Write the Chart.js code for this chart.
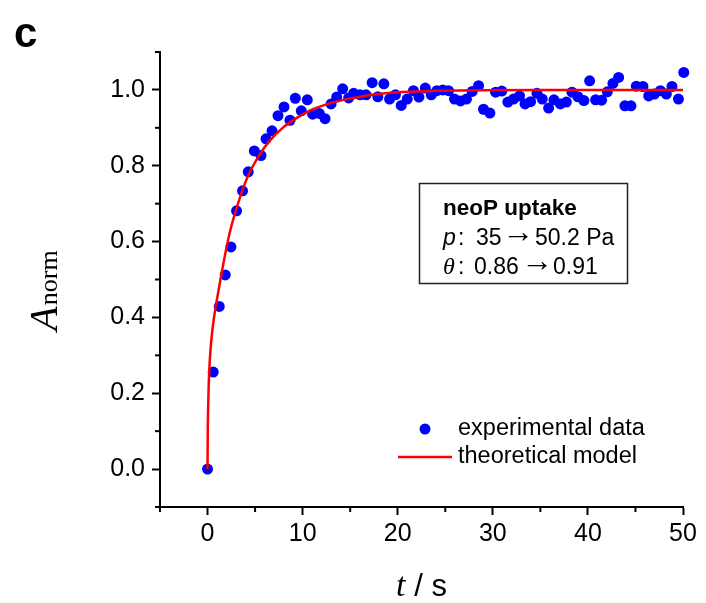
<!DOCTYPE html>
<html><head><meta charset="utf-8">
<script src="https://cdn.jsdelivr.net/npm/chart.js@4.4.1/dist/chart.umd.min.js"></script>
<style>html,body{margin:0;padding:0;background:#fff}#wrap{width:706px;height:603px}</style>
</head><body><div id="wrap"><canvas id="c" width="706" height="603"></canvas></div>
<script>
// ---- data ----
const timeExp = [0,0.60,1.23,1.86,2.46,3.05,3.68,4.28,4.92,5.62,6.15,6.78,7.41,8.04,8.67,9.23,9.86,10.49,11.05,11.75,
  12.36,12.99,13.58,14.21,14.84,15.37,16.05,16.67,17.31,17.91,18.54,19.14,19.76,20.37,21.0,21.65,22.23,22.9,23.53,24.12,
  24.74,25.34,25.97,26.6,27.23,27.83,28.5,29.02,29.69,30.29,30.95,31.58,32.18,32.81,33.39,33.97,34.64,35.2,35.87,36.43,
  37.1,37.73,38.32,38.95,39.58,40.18,40.81,41.44,42.04,42.63,43.23,43.89,44.53,45.09,45.79,46.39,46.99,47.62,48.25,48.84,
  49.52,50.08];
const normExp = [0,0.256,0.429,0.512,0.586,0.681,0.734,0.784,0.839,0.827,0.871,0.892,0.932,0.955,0.920,0.978,0.945,0.974,0.936,0.938,
  0.924,0.963,0.981,1.003,0.979,0.991,0.987,0.987,1.019,0.982,1.016,0.976,0.987,0.959,0.976,0.998,0.981,1.005,0.987,0.998,
  1.000,0.998,0.976,0.971,0.976,0.996,1.011,0.949,0.939,0.994,0.997,0.968,0.976,0.984,0.963,0.969,0.991,0.976,0.952,0.974,
  0.963,0.968,0.994,0.982,0.972,1.024,0.974,0.973,0.995,1.017,1.033,0.958,0.958,1.010,1.009,0.984,0.989,0.998,0.989,1.009,
  0.976,1.046];
const timeModel = [0,0.02,0.06,0.12,0.22,0.36,0.55,0.8,1.15,1.5,2.3,3.2,4.2,5.5,6.5,7.9,9.3,10.7,12.5,14.9,17.5,20,23.3,28,35,50];
const normModel = [0,0.09,0.16,0.22,0.28,0.33,0.375,0.42,0.47,0.52,0.62,0.70,0.77,0.83,0.865,0.90,0.925,0.945,0.962,0.977,0.988,0.994,0.997,0.999,1.0,1.0];
const xMajorTicks = [0,10,20,30,40,50];
const xMinorTicks = [-5,5,15,25,35,45];
const yMajorTicks = [0,0.2,0.4,0.6,0.8,1.0];
const yMinorTicks = [-0.1,0.1,0.3,0.5,0.7,0.9,1.1];
const seriesNames = ['experimental data','theoretical model'];
const boxTitle = 'neoP uptake';
const pressureFrom = '35', pressureTo = '50.2 Pa';
const coverageFrom = '0.86', coverageTo = '0.91';

const SANS = '"Liberation Sans", Arial, Helvetica, sans-serif';
const SERIF = '"Liberation Serif", "Times New Roman", serif';
const BLUE = '#0000ff', RED = '#ff0000';

const isMajor = (arr, v) => arr.some(m => Math.abs(m - v) < 1e-6);

const extras = {
  id: 'extras',
  afterDraw(chart) {
    const ctx = chart.ctx, xs = chart.scales.x, ys = chart.scales.y;
    const ca = chart.chartArea;
    ctx.save();
    // minor ticks
    ctx.strokeStyle = '#000'; ctx.lineWidth = 2;
    xMinorTicks.forEach(v => { const p = xs.getPixelForValue(v); ctx.beginPath(); ctx.moveTo(p, ca.bottom); ctx.lineTo(p, ca.bottom + 5); ctx.stroke(); });
    yMinorTicks.forEach(v => { const p = ys.getPixelForValue(v); ctx.beginPath(); ctx.moveTo(ca.left, p); ctx.lineTo(ca.left - 5, p); ctx.stroke(); });

    ctx.fillStyle = '#000';
    // panel letter
    ctx.font = 'bold 42px ' + SANS; ctx.textBaseline = 'alphabetic'; ctx.textAlign = 'left';
    ctx.fillText('c', 14, 47);

    // x title: t / s
    const cx = (ca.left + ca.right) / 2;
    ctx.font = 'italic 34px ' + SERIF;
    const wT = ctx.measureText('t').width;
    ctx.font = '31px ' + SANS;
    const wR = ctx.measureText(' / s').width;
    let x0 = cx - (wT + wR) / 2;
    ctx.font = 'italic 34px ' + SERIF; ctx.fillText('t', x0, 596);
    ctx.font = '31px ' + SANS; ctx.fillText(' / s', x0 + wT, 596);

    // y title: A_norm
    ctx.save();
    ctx.translate(57, 291);
    ctx.rotate(-Math.PI / 2);
    ctx.font = 'italic 40px ' + SERIF;
    const wA = ctx.measureText('A').width;
    ctx.font = '26px ' + SERIF;
    const wN = ctx.measureText('norm').width;
    const sx = -(wA + wN) / 2;
    ctx.font = 'italic 40px ' + SERIF; ctx.fillText('A', sx, 0);
    ctx.font = '26px ' + SERIF; ctx.fillText('norm', sx + wA + 1, 0);
    ctx.restore();

    // text box
    ctx.strokeStyle = '#222'; ctx.lineWidth = 1.5;
    ctx.strokeRect(419.5, 183.5, 208, 100);
    ctx.fillStyle = '#000';
    ctx.font = 'bold 22.5px ' + SANS; ctx.fillText(boxTitle, 443, 215);
    const y2 = 245, y3 = 274;
    ctx.font = 'italic 23px ' + SANS; ctx.fillText('p', 443, y2);
    ctx.font = '23px ' + SANS; ctx.fillText(':', 458, y2);
    ctx.fillText(pressureFrom, 476, y2);
    ctx.font = '32px ' + SANS; ctx.fillText('\u2192', 502, y2 - 3);
    ctx.font = '23px ' + SANS; ctx.fillText(pressureTo, 535, y2);
    ctx.font = 'italic 24px ' + SERIF; ctx.fillText('\u03b8', 443, y3);
    ctx.font = '23px ' + SANS; ctx.fillText(':', 458, y3);
    ctx.fillText(coverageFrom, 474, y3);
    ctx.font = '32px ' + SANS; ctx.fillText('\u2192', 521, y3 - 3);
    ctx.font = '23px ' + SANS; ctx.fillText(coverageTo, 553, y3);

    // legend
    ctx.fillStyle = BLUE;
    ctx.beginPath(); ctx.arc(425, 429, 5.5, 0, Math.PI * 2); ctx.fill();
    ctx.strokeStyle = RED; ctx.lineWidth = 2.5;
    ctx.beginPath(); ctx.moveTo(398, 457); ctx.lineTo(452, 457); ctx.stroke();
    ctx.fillStyle = '#000'; ctx.font = '23.5px ' + SANS; ctx.textBaseline = 'middle';
    ctx.fillText(seriesNames[0], 458, 429);
    ctx.fillText(seriesNames[1], 458, 457);
    ctx.restore();
  }
};

new Chart(document.getElementById('c'), {
  data: {
    datasets: [
      { type: 'line', label: seriesNames[1], order: 0,
        data: timeModel.map((t, i) => ({ x: t, y: normModel[i] })),
        borderColor: RED, borderWidth: 2.5, pointRadius: 0, fill: false,
        cubicInterpolationMode: 'monotone', clip: false },
      { type: 'scatter', label: seriesNames[0], order: 1,
        data: timeExp.map((t, i) => ({ x: t, y: normExp[i] })),
        backgroundColor: BLUE, borderWidth: 0, pointRadius: 5.5, clip: false }
    ]
  },
  options: {
    responsive: false, animation: false, devicePixelRatio: 1,
    layout: { padding: { left: 0, top: 52, right: 23, bottom: 0 } },
    plugins: { legend: { display: false }, tooltip: { enabled: false } },
    scales: {
      x: { type: 'linear', position: 'bottom', min: -5, max: 50,
        afterFit: s => { s.height = 96; },
        border: { display: true, color: '#000', width: 2 },
        grid: { drawOnChartArea: false, drawTicks: true, tickLength: 8, tickWidth: 2,
          tickColor: c => isMajor(xMajorTicks, c.tick.value) ? '#000' : 'rgba(0,0,0,0)' },
        ticks: { stepSize: 5, autoSkip: false, maxRotation: 0, padding: 4, color: '#000',
          font: { family: SANS, size: 25 },
          callback: v => isMajor(xMajorTicks, v) ? String(Math.round(v)) : '' } },
      y: { type: 'linear', min: -0.1, max: 1.1,
        afterFit: s => { s.width = 160; },
        border: { display: true, color: '#000', width: 2 },
        grid: { drawOnChartArea: false, drawTicks: true, tickLength: 8, tickWidth: 2,
          tickColor: c => isMajor(yMajorTicks, c.tick.value) ? '#000' : 'rgba(0,0,0,0)' },
        ticks: { stepSize: 0.1, autoSkip: false, padding: 7, color: '#000',
          font: { family: SANS, size: 25 },
          callback: v => isMajor(yMajorTicks, v) ? v.toFixed(1) : '' } }
    }
  },
  plugins: [extras]
});
</script></body></html>
